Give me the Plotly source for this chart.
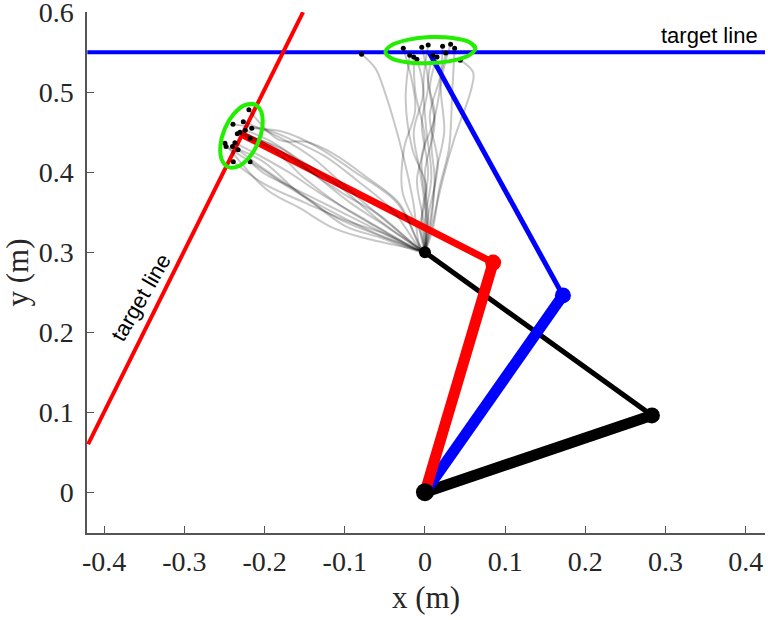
import plotly.graph_objects as go

# Reach trajectories (x, y in metres)
red_paths = [
    [(0,.300),(-.006,.306),(-.032,.361),(-.073,.394),(-.114,.423),(-.148,.438),(-.181,.440),(-.2195,.478)],
    [(0,.300),(-.006,.304),(-.040,.352),(-.085,.390),(-.125,.420),(-.165,.440),(-.195,.452),(-.2394,.460)],
    [(0,.300),(-.010,.307),(-.050,.340),(-.095,.378),(-.140,.418),(-.180,.443),(-.2265,.463)],
    [(0,.300),(-.008,.305),(-.048,.332),(-.092,.361),(-.135,.395),(-.180,.430),(-.234,.448)],
    [(0,.300),(-.012,.308),(-.055,.345),(-.100,.372),(-.150,.405),(-.190,.433),(-.2307,.450)],
    [(0,.300),(-.006,.308),(-.035,.362),(-.090,.402),(-.135,.432),(-.175,.450),(-.216,.455)],
    [(0,.300),(-.010,.306),(-.060,.342),(-.110,.385),(-.160,.418),(-.195,.440),(-.224,.4525)],
    [(0,.300),(-.012,.304),(-.058,.330),(-.105,.358),(-.150,.392),(-.185,.425),(-.218,.442)],
    [(0,.300),(-.006,.302),(-.073,.317),(-.114,.330),(-.156,.355),(-.197,.378),(-.2494,.436)],
    [(0,.300),(-.014,.305),(-.065,.325),(-.115,.350),(-.165,.378),(-.205,.405),(-.248,.432)],
    [(0,.300),(-.010,.303),(-.060,.322),(-.110,.343),(-.155,.372),(-.200,.412),(-.240,.432)],
    [(0,.300),(-.016,.307),(-.070,.338),(-.125,.370),(-.170,.400),(-.205,.420),(-.237,.4367)],
    [(0,.300),(-.012,.302),(-.055,.318),(-.100,.333),(-.150,.370),(-.195,.400),(-.233,.428)],
    [(0,.300),(-.008,.303),(-.050,.323),(-.100,.340),(-.150,.362),(-.200,.385),(-.239,.413)],
    [(0,.300),(-.014,.304),(-.060,.328),(-.120,.358),(-.170,.383),(-.200,.398),(-.218,.413)],
]
blue_paths = [
    [(0,.300),(-.006,.306),(-.015,.365),(-.027,.420),(-.050,.500),(-.062,.530),(-.079,.5475)],
    [(0,.300),(-.004,.320),(-.028,.375),(-.026,.430),(-.012,.480),(-.027,.555)],
    [(0,.300),(-.006,.330),(.002,.380),(-.016,.430),(-.024,.490),(-.019,.546)],
    [(0,.300),(-.002,.340),(-.010,.390),(.000,.440),(-.012,.500),(-.014,.544)],
    [(0,.300),(.002,.335),(-.006,.400),(-.014,.450),(-.002,.500),(-.010,.541)],
    [(0,.300),(-.004,.345),(.004,.400),(-.004,.460),(.004,.510),(-.004,.556)],
    [(0,.300),(.000,.340),(.008,.395),(.002,.450),(-.002,.510),(.004,.559)],
    [(0,.300),(.004,.340),(.000,.400),(.012,.460),(.006,.505),(.015,.544)],
    [(0,.300),(.006,.335),(.012,.390),(.008,.440),(.018,.500),(.022,.5575)],
    [(0,.300),(.008,.340),(.014,.400),(.024,.450),(.020,.510),(.032,.560)],
    [(0,.300),(.010,.330),(.018,.380),(.030,.430),(.034,.500),(.037,.555)],
    [(0,.300),(.004,.345),(.016,.410),(.006,.470),(.018,.515),(.026,.549)],
    [(0,.300),(.008,.330),(.022,.390),(.036,.440),(.058,.505),(.060,.525),(.044,.540)],
    [(0,.300),(.002,.350),(-.004,.420),(.012,.470),(.004,.515),(.010,.546)],
]
red_dots_x = [-.2195,-.2394,-.2265,-.234,-.2307,-.216,-.224,-.218,-.2494,-.248,-.240,-.237,-.233,-.239,-.218]
red_dots_y = [.478,.460,.463,.448,.450,.455,.4525,.442,.436,.432,.432,.4367,.428,.413,.413]
blue_dots_x = [-.079,-.027,-.019,-.014,-.010,-.004,.004,.015,.022,.032,.037,.026,.044,.010]
blue_dots_y = [.5475,.555,.546,.544,.541,.556,.559,.544,.5575,.560,.555,.549,.540,.546]

blue_ellipse_x = [.0630,.0551,.0344,.0062,-.0218,-.0421,-.0492,-.0413,-.0206,.0076,.0356,.0558,.0630,.0551,.0344]
blue_ellipse_y = [.5550,.5628,.5678,.5688,.5653,.5584,.5500,.5422,.5372,.5363,.5397,.5466,.5550,.5628,.5678]
red_ellipse_x = [-.2122,-.2248,-.2384,-.2495,-.2550,-.2536,-.2454,-.2329,-.2192,-.2081,-.2026,-.2040,-.2122,-.2248,-.2384]
red_ellipse_y = [.4847,.4839,.4728,.4544,.4336,.4161,.4065,.4073,.4184,.4368,.4576,.4751,.4847,.4839,.4728]

red_target_x = [-.42,-.152]
red_target_y = [.06,.60]
blue_target_x = [-.421,.424]
blue_target_y = [.55,.55]

black_upper = ([0,.283],[0,.096])
black_fore = ([.283,0],[.096,.300])
red_upper = ([0,.085],[0,.287])
red_fore = ([.085,-.228],[.287,.447])
blue_upper = ([0,.172],[0,.246])
blue_fore = ([.172,.005],[.246,.550])

x_ticks = [-.4,-.3,-.2,-.1,0,.1,.2,.3,.4]
x_labels = ["-0.4","-0.3","-0.2","-0.1","0","0.1","0.2","0.3","0.4"]
y_ticks = [0,.1,.2,.3,.4,.5,.6]
y_labels = ["0","0.1","0.2","0.3","0.4","0.5","0.6"]

fig = go.Figure()

def line(xs, ys, color, width, shape="linear", smoothing=1.0):
    fig.add_trace(go.Scatter(x=xs, y=ys, mode="lines", hoverinfo="skip",
                             line=dict(color=color, width=width, shape=shape, smoothing=smoothing)))

def joint(x, y, color, size):
    fig.add_trace(go.Scatter(x=[x], y=[y], mode="markers", hoverinfo="skip",
                             marker=dict(color=color, size=size)))

GREY = "rgba(0,0,0,0.22)"
line(blue_target_x, blue_target_y, "#0000ff", 4)
line(red_target_x, red_target_y, "#ff0000", 4)
line(*black_fore, "#000000", 5)
line(*black_upper, "#000000", 11)
for p in blue_paths:
    line([a for a, _ in p], [b for _, b in p], GREY, 2, "spline")
line(*blue_fore, "#0000ff", 5)
line(*blue_upper, "#0000ff", 11)
line(*red_fore, "#ff0000", 7)
line(*red_upper, "#ff0000", 11)
for p in red_paths:
    line([a for a, _ in p], [b for _, b in p], GREY, 2, "spline")
fig.add_trace(go.Scatter(x=red_dots_x + blue_dots_x, y=red_dots_y + blue_dots_y, mode="markers",
                         hoverinfo="skip", marker=dict(color="#000000", size=5)))
line(blue_ellipse_x, blue_ellipse_y, "#22ee00", 4, "spline", 1.0)
line(red_ellipse_x, red_ellipse_y, "#22ee00", 4, "spline", 1.0)
joint(.085, .287, "#ff0000", 16)
joint(.172, .246, "#0000ff", 16)
joint(.283, .096, "#000000", 16)
joint(0, .300, "#000000", 12)
joint(0, 0, "#000000", 18)

SERIF = "Liberation Serif"
fig.add_annotation(x=.355, y=.571, text="target line", showarrow=False,
                   font=dict(family="Liberation Sans", size=22, color="#000000"))
fig.add_annotation(x=-.354, y=.243, text="target line", showarrow=False, textangle=-60,
                   font=dict(family="Liberation Sans", size=22, color="#000000"))

axis = dict(showgrid=False, zeroline=False, showline=True, linecolor="#555555", linewidth=1.5,
            ticks="inside", ticklen=7, tickcolor="#555555", tickwidth=1, ticklabeloverflow="allow",
            automargin=False, tickfont=dict(family=SERIF, size=28, color="#262626"))
fig.update_layout(
    width=768, height=620, showlegend=False, paper_bgcolor="white", plot_bgcolor="white",
    margin=dict(l=87, r=3, t=12, b=87),
    xaxis=dict(axis, range=[-.4214, .4240], tickvals=x_ticks, ticktext=x_labels, ticklabelstandoff=3,
               title=dict(text="x (m)", font=dict(family=SERIF, size=31, color="#262626"), standoff=10)),
    yaxis=dict(axis, range=[-.051, .6002], tickvals=y_ticks, ticktext=y_labels, ticklabelstandoff=6,
               title=dict(text="y (m)", font=dict(family=SERIF, size=31, color="#262626"), standoff=20)),
)
fig.write_html("out.html", config={"displayModeBar": False}, post_script=(
    "document.documentElement.style.overflow='hidden';"
    "document.body.style.margin='0';document.body.style.overflow='hidden';"))
